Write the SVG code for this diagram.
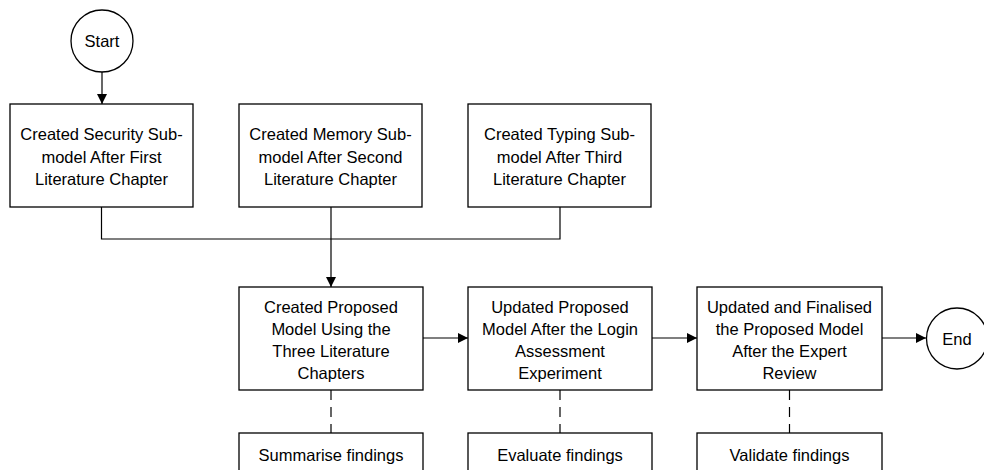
<svg xmlns="http://www.w3.org/2000/svg" width="984" height="470" viewBox="0 0 984 470">
  <style>
    .box { fill: #fff; stroke: #000; stroke-width: 1.3; }
    .lbl { font-family: "Liberation Sans", Arial, sans-serif; font-size: 16.5px; fill: #000; text-anchor: middle; }
    .wire { fill: none; stroke: #000; stroke-width: 1.2; }
    .dash { fill: none; stroke: #000; stroke-width: 1.2; stroke-dasharray: 10 7; }
  </style>
  <defs>
    <marker id="arrow" viewBox="0 0 10 10" refX="10" refY="5" markerWidth="10" markerHeight="10" markerUnits="userSpaceOnUse" orient="auto">
      <path d="M0,0 L10,5 L0,10 Z" fill="#000"/>
    </marker>
  </defs>
  <rect width="984" height="470" fill="#fff"/>

  <!-- connectors -->
  <g id="connectors">
    <line class="wire" x1="102" y1="72" x2="102" y2="104" marker-end="url(#arrow)"/>
    <polyline class="wire" points="101.5,207 101.5,239 560,239 560,207"/>
    <line class="wire" x1="331" y1="207" x2="331" y2="239"/>
    <line class="wire" x1="331" y1="239" x2="331" y2="287" stroke-width="2" marker-end="url(#arrow)"/>
    <line class="wire" x1="423" y1="338" x2="468" y2="338" marker-end="url(#arrow)"/>
    <line class="wire" x1="652" y1="338" x2="697" y2="338" marker-end="url(#arrow)"/>
    <line class="wire" x1="882" y1="338" x2="926" y2="338" marker-end="url(#arrow)"/>
    <line class="dash" x1="331" y1="390" x2="331" y2="433"/>
    <line class="dash" x1="560" y1="390" x2="560" y2="433"/>
    <line class="dash" x1="789.5" y1="390" x2="789.5" y2="433"/>
  </g>

  <g id="start">
    <circle class="box" cx="102" cy="41" r="31"/>
    <text class="lbl" x="102" y="47">Start</text>
  </g>

  <g id="security">
    <rect class="box" x="10" y="104" width="183" height="103"/>
    <text class="lbl" x="101.5" y="140">Created Security Sub-</text>
    <text class="lbl" x="101.5" y="162.5">model After First</text>
    <text class="lbl" x="101.5" y="185">Literature Chapter</text>
  </g>

  <g id="memory">
    <rect class="box" x="239" y="104" width="183" height="103"/>
    <text class="lbl" x="330.5" y="140">Created Memory Sub-</text>
    <text class="lbl" x="330.5" y="162.5">model After Second</text>
    <text class="lbl" x="330.5" y="185">Literature Chapter</text>
  </g>

  <g id="typing">
    <rect class="box" x="468" y="104" width="183" height="103"/>
    <text class="lbl" x="559.5" y="140">Created Typing Sub-</text>
    <text class="lbl" x="559.5" y="162.5">model After Third</text>
    <text class="lbl" x="559.5" y="185">Literature Chapter</text>
  </g>

  <g id="proposed">
    <rect class="box" x="239" y="287" width="184" height="103"/>
    <text class="lbl" x="331" y="312.5">Created Proposed</text>
    <text class="lbl" x="331" y="334.5">Model Using the</text>
    <text class="lbl" x="331" y="356.5">Three Literature</text>
    <text class="lbl" x="331" y="378.5">Chapters</text>
  </g>

  <g id="updated">
    <rect class="box" x="468" y="287" width="184" height="103"/>
    <text class="lbl" x="560" y="312.5">Updated Proposed</text>
    <text class="lbl" x="560" y="334.5">Model After the Login</text>
    <text class="lbl" x="560" y="356.5">Assessment</text>
    <text class="lbl" x="560" y="378.5">Experiment</text>
  </g>

  <g id="finalised">
    <rect class="box" x="697" y="287" width="185" height="103"/>
    <text class="lbl" x="789.5" y="312.5">Updated and Finalised</text>
    <text class="lbl" x="789.5" y="334.5">the Proposed Model</text>
    <text class="lbl" x="789.5" y="356.5">After the Expert</text>
    <text class="lbl" x="789.5" y="378.5">Review</text>
  </g>

  <g id="end">
    <circle class="box" cx="957" cy="338.5" r="30.5"/>
    <text class="lbl" x="957" y="344.5">End</text>
  </g>

  <g id="summarise">
    <rect class="box" x="239" y="433" width="184" height="60"/>
    <text class="lbl" x="331" y="461">Summarise findings</text>
  </g>

  <g id="evaluate">
    <rect class="box" x="468" y="433" width="184" height="60"/>
    <text class="lbl" x="560" y="461">Evaluate findings</text>
  </g>

  <g id="validate">
    <rect class="box" x="697" y="433" width="185" height="60"/>
    <text class="lbl" x="789.5" y="461">Validate findings</text>
  </g>
</svg>
